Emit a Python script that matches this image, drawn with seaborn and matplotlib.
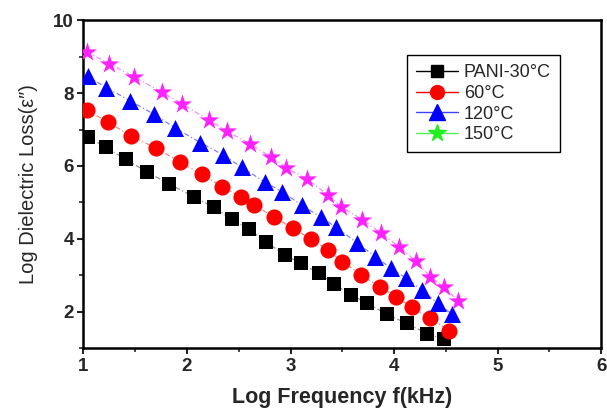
import numpy as np
import pandas as pd
import matplotlib
matplotlib.use("Agg")
import matplotlib.pyplot as plt
from matplotlib.lines import Line2D
import seaborn as sns

# Log frequency (x) and log dielectric loss (y) for each temperature
x_30 = [1.04, 1.215, 1.41, 1.61, 1.83, 2.07, 2.26, 2.43, 2.60, 2.76,
        2.95, 3.10, 3.27, 3.42, 3.58, 3.74, 3.93, 4.12, 4.32, 4.48]
y_30 = [6.80, 6.51, 6.18, 5.84, 5.50, 5.15, 4.86, 4.54, 4.26, 3.92,
        3.55, 3.33, 3.06, 2.76, 2.47, 2.23, 1.93, 1.68, 1.40, 1.24]

x_60 = [1.03, 1.24, 1.46, 1.70, 1.93, 2.14, 2.34, 2.52, 2.65, 2.84,
        3.02, 3.20, 3.36, 3.50, 3.68, 3.86, 4.02, 4.17, 4.35, 4.53]
y_60 = [7.53, 7.20, 6.82, 6.49, 6.12, 5.77, 5.43, 5.15, 4.92, 4.60,
        4.29, 3.99, 3.69, 3.37, 3.02, 2.68, 2.41, 2.12, 1.83, 1.47]

x_120 = [1.04, 1.22, 1.45, 1.68, 1.88, 2.13, 2.35, 2.53, 2.75, 2.92,
         3.11, 3.29, 3.44, 3.64, 3.82, 3.97, 4.11, 4.27, 4.42, 4.56]
y_120 = [8.46, 8.15, 7.79, 7.42, 7.05, 6.64, 6.30, 5.96, 5.56, 5.29,
         4.92, 4.60, 4.32, 3.89, 3.51, 3.19, 2.93, 2.59, 2.23, 1.93]

x_150 = [1.03, 1.25, 1.49, 1.76, 1.95, 2.21, 2.39, 2.61, 2.81, 2.96,
         3.16, 3.36, 3.49, 3.69, 3.87, 4.05, 4.21, 4.35, 4.48, 4.62]
y_150 = [9.13, 8.81, 8.44, 8.02, 7.71, 7.26, 6.95, 6.60, 6.25, 5.95,
         5.63, 5.21, 4.88, 4.53, 4.16, 3.78, 3.39, 2.96, 2.67, 2.30]

labels = ["PANI-30°C", "60°C", "120°C", "150°C"]
x_ticks = [1, 2, 3, 4, 5, 6]
y_ticks = [2, 4, 6, 8, 10]

frames = []
for lab, xs, ys in zip(labels, [x_30, x_60, x_120, x_150],
                       [y_30, y_60, y_120, y_150]):
    frames.append(pd.DataFrame({"logf": xs, "loss": ys, "sample": lab}))
df = pd.concat(frames, ignore_index=True)

sns.set_style("ticks")
plt.rcParams["font.family"] = ["Liberation Sans", "DejaVu Sans"]

marker_colors = {"PANI-30°C": "#000000", "60°C": "#ff0000",
                 "120°C": "#0000ff", "150°C": "#ff22ff"}
line_colors = {"PANI-30°C": "#909090", "60°C": "#ff8080",
               "120°C": "#8080ff", "150°C": "#ff88ff"}
markers = {"PANI-30°C": "s", "60°C": "o", "120°C": "^", "150°C": "*"}
sizes = {"PANI-30°C": 115, "60°C": 135, "120°C": 150, "150°C": 210}

fig = plt.figure(figsize=(6.07, 4.12), dpi=100)
ax = fig.add_axes([0.1375, 0.155, 0.853, 0.796])

sns.lineplot(data=df, x="logf", y="loss", hue="sample", palette=line_colors,
             estimator=None, sort=False, linewidth=0.9, legend=False, ax=ax,
             dashes=False)
for line in ax.lines:
    line.set_linestyle((0, (4, 2, 1, 2)))

for lab in labels:
    sub = df[df["sample"] == lab]
    sns.scatterplot(data=sub, x="logf", y="loss", color=marker_colors[lab],
                    marker=markers[lab], s=sizes[lab], linewidth=0,
                    legend=False, ax=ax, zorder=3)

ax.set_xlim(1, 6)
ax.set_ylim(1, 10)
ax.set_xticks(x_ticks)
ax.set_yticks(y_ticks)
ax.set_xticks(np.arange(1.5, 6, 1.0), minor=True)
ax.set_yticks(np.arange(1, 10, 2), minor=True)
ax.tick_params(axis="both", which="major", direction="out", length=4,
               width=1.5, labelsize=13.5, pad=3)
ax.tick_params(axis="both", which="minor", direction="out", length=3,
               width=1.2)
for t in ax.get_xticklabels() + ax.get_yticklabels():
    t.set_fontweight("bold")
for sp in ax.spines.values():
    sp.set_linewidth(1.8)
    sp.set_color("black")

ax.set_xlabel("Log Frequency f(kHz)", fontsize=15.5, fontweight="bold",
              labelpad=9)
ax.set_ylabel("Log Dielectric Loss(ε\u2033)", fontsize=14.5, labelpad=11)

legend_line_colors = ["#000000", "#ff0000", "#4040ff", "#55ee55"]
legend_marker_colors = ["#000000", "#ff0000", "#0000ff", "#22ee22"]
legend_sizes = [9, 10, 11, 13]
handles = [Line2D([0], [0], color=lc, lw=1, marker=markers[lab],
                  markerfacecolor=mc, markeredgecolor=mc, markersize=ms)
           for lab, lc, mc, ms in zip(labels, legend_line_colors,
                                      legend_marker_colors, legend_sizes)]
leg = ax.legend(handles, labels, loc="upper left",
                bbox_to_anchor=(0.625, 0.893), borderaxespad=0,
                fontsize=13, frameon=True, fancybox=False,
                edgecolor="black", framealpha=1, handlelength=2.3,
                handletextpad=0.35, labelspacing=0.2, borderpad=0.5)
leg.get_frame().set_linewidth(1.0)

fig.savefig("out.png", dpi=100)
